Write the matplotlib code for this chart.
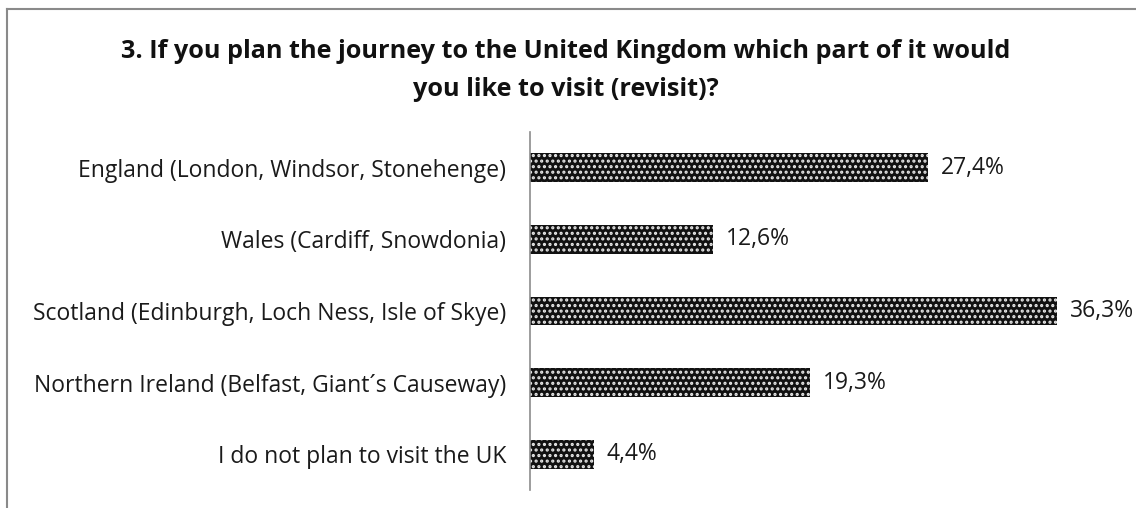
import matplotlib
matplotlib.use('Agg')
import matplotlib.pyplot as plt
from matplotlib.lines import Line2D

categories = [
    'England (London, Windsor, Stonehenge)',
    'Wales (Cardiff, Snowdonia)',
    'Scotland (Edinburgh, Loch Ness, Isle of Skye)',
    'Northern Ireland (Belfast, Giant\u00b4s Causeway)',
    'I do not plan to visit the UK',
]
shares = [27.4, 12.6, 36.3, 19.3, 4.4]
value_labels = ['27,4%', '12,6%', '36,3%', '19,3%', '4,4%']

plt.rcParams['font.family'] = ['Open Sans', 'DejaVu Sans']
plt.rcParams['hatch.linewidth'] = 1.5
plt.rcParams['hatch.color'] = '#e8e8e8'

W, H = 1136, 508
fig = plt.figure(figsize=(W / 100, H / 100), dpi=100)
ax = fig.add_axes([530 / W, 1 - 490 / H, 570 / W, (490 - 132) / H])

ypos = list(range(len(categories)))
bars = ax.barh(ypos, shares, height=0.4, color='#111111',
               hatch='...', edgecolor='#e8e8e8', linewidth=0)

for y, v, lab in zip(ypos, shares, value_labels):
    ax.text(v + 0.85, y, lab, va='center', ha='left', fontsize=16.5, color='#1a1a1a')

ax.set_xlim(0, 570 / 14.53)
ax.set_ylim(4.5, -0.5)
ax.set_yticks(ypos)
ax.set_yticklabels(categories, fontsize=16.5, color='#1a1a1a')
ax.tick_params(axis='y', length=0, pad=17)
ax.set_xticks([])
for side in ['top', 'right', 'bottom']:
    ax.spines[side].set_visible(False)
ax.spines['left'].set_color('#8c8c8c')
ax.spines['left'].set_linewidth(1.2)

fig.text(566 / W, 1 - 52 / H,
         '3. If you plan the journey to the United Kingdom which part of it would',
         ha='center', va='center', fontsize=18.2, fontweight='bold', color='#111111')
fig.text(566 / W, 1 - 89 / H, 'you like to visit (revisit)?',
         ha='center', va='center', fontsize=18.2, fontweight='bold', color='#111111')

# chart frame: top and left edges only
fig.add_artist(Line2D([7 / W, 1], [1 - 9 / H, 1 - 9 / H], color='#8a8a8a', lw=1.5))
fig.add_artist(Line2D([7 / W, 7 / W], [0, 1 - 9 / H], color='#8a8a8a', lw=1.5))

plt.savefig('out.png', dpi=100)
